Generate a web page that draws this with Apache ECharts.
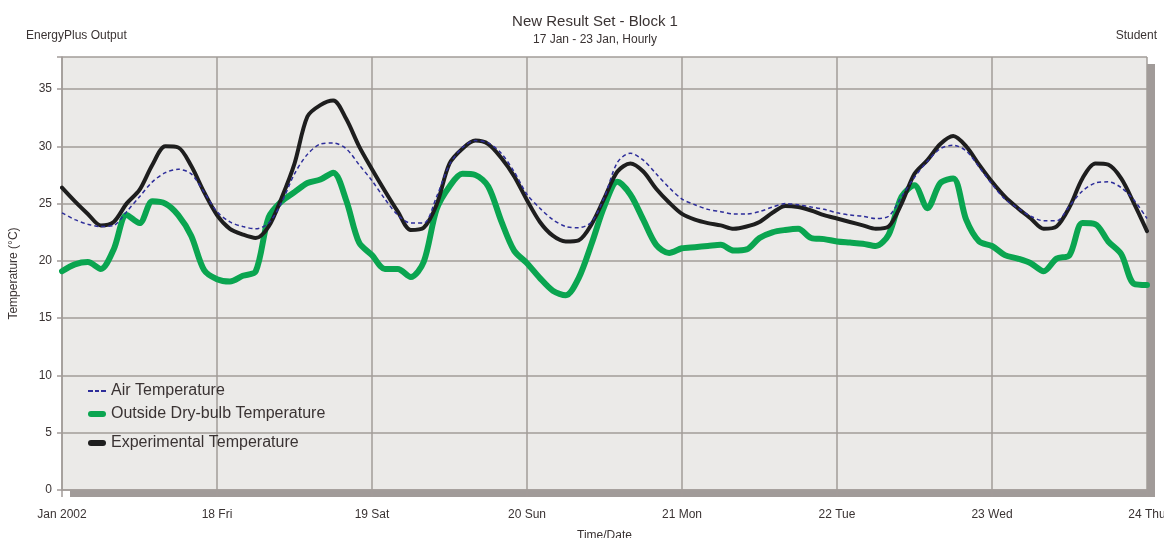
<!DOCTYPE html>
<html>
<head>
<meta charset="utf-8">
<script src="https://cdn.jsdelivr.net/npm/echarts@6/dist/echarts.min.js"></script>
<style>
html,body{margin:0;padding:0;background:#fff;overflow:hidden;}
#chart{width:1164px;height:538px;}
</style>
</head>
<body>
<div id="chart"></div>
<script>
// Hours since 17 Jan 2002 00:00 (2-hourly readings)
const hours = [];
for (let h = 0; h <= 168; h += 2) hours.push(h);

const dayLabels = ['Jan 2002', '18 Fri', '19 Sat', '20 Sun', '21 Mon', '22 Tue', '23 Wed', '24 Thu'];
const yTicks = [0, 5, 10, 15, 20, 25, 30, 35];

const airTemp = [
  24.2, 23.6, 23.2, 23.0, 23.1, 24.3, 25.6, 26.9, 27.7, 28.0, 27.6, 26.0,
  24.3, 23.4, 23.0, 22.8, 23.3, 25.1, 27.6, 29.3, 30.2, 30.3, 29.8, 28.4,
  27.0, 25.4, 24.0, 23.3, 23.3, 25.6, 28.4, 29.9, 30.5, 30.3, 29.4, 27.8,
  25.8, 24.6, 23.6, 23.0, 22.9, 23.4, 25.6, 28.6, 29.4, 28.8, 27.6, 26.4,
  25.4, 24.9, 24.5, 24.3, 24.1, 24.1, 24.3, 24.7, 25.0, 24.9, 24.7, 24.5,
  24.2, 24.0, 23.9, 23.7, 23.9, 25.6, 27.3, 28.7, 29.8, 30.1, 29.6, 28.2,
  26.7, 25.4, 24.6, 23.9, 23.5, 23.5, 24.8, 26.1, 26.8, 26.9, 26.4, 25.3,
  23.7
];
const outsideTemp = [
  19.1, 19.7, 19.9, 19.3, 21.0, 24.0, 23.3, 25.2, 25.0, 24.0, 22.2, 19.2,
  18.4, 18.2, 18.7, 19.1, 23.8, 25.2, 26.0, 26.8, 27.1, 27.7, 25.3, 21.6,
  20.5, 19.3, 19.3, 18.6, 19.9, 24.5, 26.5, 27.6, 27.5, 26.5, 23.5, 20.9,
  19.8, 18.5, 17.4, 17.0, 18.5, 21.5, 24.8, 26.9, 25.8, 23.6, 21.4, 20.7,
  21.1, 21.2, 21.3, 21.4, 20.9, 21.0, 22.0, 22.5, 22.7, 22.8, 22.0, 21.9,
  21.7, 21.6, 21.5, 21.3, 22.3, 25.6, 26.6, 24.6, 26.8, 27.2, 23.6, 21.7,
  21.3, 20.5, 20.2, 19.8, 19.1, 20.2, 20.5, 23.3, 23.2, 21.7, 20.6, 18.0,
  17.9
];
const expTemp = [
  26.4, 25.2, 24.1, 23.1, 23.4, 25.0, 26.2, 28.4, 30.0, 29.9, 28.3, 26.0,
  24.0, 22.8, 22.3, 22.0, 23.0, 25.5, 28.5, 32.6, 33.6, 34.0, 32.4, 30.0,
  28.0, 26.1, 24.3, 22.7, 22.9, 24.9, 28.5, 29.8, 30.5, 30.2, 29.0, 27.4,
  25.3, 23.4, 22.2, 21.7, 21.8, 23.2, 25.5, 27.8, 28.5, 27.8, 26.3, 25.1,
  24.1, 23.6, 23.3, 23.1, 22.8, 23.0, 23.4, 24.2, 24.8, 24.7, 24.4, 24.0,
  23.7, 23.4, 23.1, 22.8, 23.0, 25.0, 27.6, 28.8, 30.2, 30.9, 30.0, 28.4,
  26.9, 25.6, 24.6, 23.7, 22.8, 23.0, 24.7, 27.2, 28.5, 28.4, 27.2, 25.0,
  22.6
];

const zip = (vals) => hours.map((h, i) => [h, vals[i]]);

const txt = '#3a3333';
const gridCol = '#a29c99';
const font = '"Liberation Sans", Arial, sans-serif';

const chart = echarts.init(document.getElementById('chart'), null, {renderer: 'canvas'});

const legendBase = {
  orient: 'horizontal', left: 88, padding: 0, itemGap: 5,
  itemWidth: 18, itemHeight: 6,
  textStyle: {fontSize: 16, color: txt, fontFamily: font},
  selectedMode: false
};

chart.setOption({
  animation: false,
  backgroundColor: '#ffffff',
  textStyle: {fontFamily: font},
  title: {
    text: 'New Result Set - Block 1',
    subtext: '17 Jan - 23 Jan, Hourly',
    left: 590, top: 9, textAlign: 'center', itemGap: 5,
    textStyle: {fontSize: 15, fontWeight: 'normal', color: txt, fontFamily: font},
    subtextStyle: {fontSize: 12, color: txt, fontFamily: font}
  },
  graphic: [
    {type: 'text', left: 26, top: 30, style: {text: 'EnergyPlus Output', fontSize: 12, fill: txt, fontFamily: font}},
    {type: 'text', right: 7, top: 30, style: {text: 'Student', fontSize: 12, fill: txt, fontFamily: font}}
  ],
  legend: [
    Object.assign({}, legendBase, {top: 383, data: [{name: 'Air Temperature', icon: 'path://M0,0H5V2H0Z M7,0H11V2H7Z M13,0H18V2H13Z'}], itemWidth: 18, itemHeight: 2}),
    Object.assign({}, legendBase, {top: 406, data: [{name: 'Outside Dry-bulb Temperature', icon: 'path://M3,0H15A3,3 0 0 1 15,6H3A3,3 0 0 1 3,0Z'}]}),
    Object.assign({}, legendBase, {top: 435, data: [{name: 'Experimental Temperature', icon: 'path://M3,0H15A3,3 0 0 1 15,6H3A3,3 0 0 1 3,0Z'}]})
  ],
  grid: {
    left: 62, right: 17, top: 57, bottom: 48,
    outerBoundsMode: 'none', containLabel: false,
    show: true, backgroundColor: '#ebeae8', borderWidth: 0,
    shadowColor: '#a19b99', shadowOffsetX: 8, shadowOffsetY: 7, shadowBlur: 0
  },
  xAxis: {
    type: 'value', min: 0, max: 168, interval: 24,
    name: 'Time/Date', nameLocation: 'middle', nameGap: 40,
    nameTextStyle: {fontSize: 12, color: txt, fontFamily: font},
    axisLine: {show: true, lineStyle: {color: gridCol, width: 1.5}},
    axisTick: {show: true, length: 7, lineStyle: {color: gridCol, width: 1.5}},
    axisLabel: {
      margin: 19, fontSize: 12, color: txt, fontFamily: font,
      formatter: (v) => dayLabels[Math.round(v / 24)]
    },
    splitLine: {show: true, lineStyle: {color: gridCol, width: 1.5}}
  },
  yAxis: {
    type: 'value', min: 0, max: 37.8, interval: 5,
    name: 'Temperature (°C)', nameLocation: 'middle', nameGap: 42, nameRotate: 90,
    nameTextStyle: {fontSize: 12, color: txt, fontFamily: font},
    axisLine: {show: true, lineStyle: {color: gridCol, width: 1.5}},
    axisTick: {show: true, length: 5, lineStyle: {color: gridCol, width: 1.5}},
    axisLabel: {
      margin: 10, fontSize: 12, color: txt, fontFamily: font,
      formatter: (v) => (yTicks.indexOf(v) >= 0 ? String(v) : '')
    },
    splitLine: {show: true, lineStyle: {color: gridCol, width: 1.5}}
  },
  series: [
    {
      name: 'Outside Dry-bulb Temperature', type: 'line', data: zip(outsideTemp),
      showSymbol: false, symbol: 'none', smooth: 0.3, z: 2,
      color: '#0aa550',
      lineStyle: {color: '#0aa550', width: 6, cap: 'round', join: 'round'}
    },
    {
      name: 'Experimental Temperature', type: 'line', data: zip(expTemp),
      showSymbol: false, symbol: 'none', smooth: 0.3, z: 3,
      color: '#1e1e1e',
      lineStyle: {color: '#1e1e1e', width: 4, cap: 'round', join: 'round'}
    },
    {
      name: 'Air Temperature', type: 'line', data: zip(airTemp),
      showSymbol: false, symbol: 'none', smooth: 0.3, z: 4,
      color: '#2d2d9a',
      lineStyle: {color: '#2d2d9a', width: 1.5, type: [4, 3]}
    }
  ]
});
</script>
</body>
</html>
